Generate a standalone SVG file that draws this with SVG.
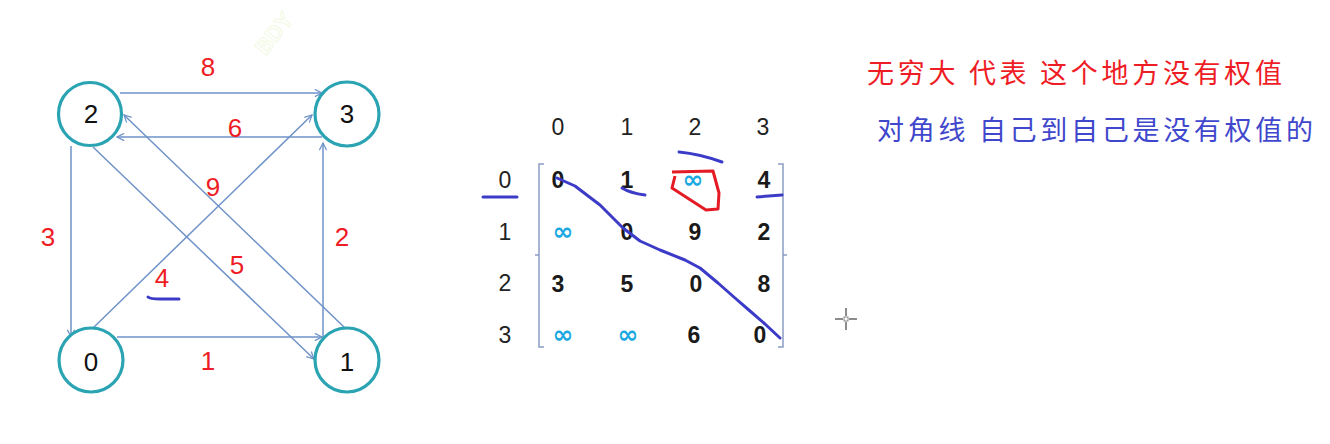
<svg xmlns="http://www.w3.org/2000/svg" width="1330" height="444" viewBox="0 0 1330 444">
<defs>
<marker id="arr" viewBox="0 0 10 10" refX="9" refY="5" markerWidth="9" markerHeight="9" markerUnits="userSpaceOnUse" orient="auto">
<path d="M1,1 L9,5 L1,9" fill="none" stroke="#6f93c8" stroke-width="1.4"/>
</marker>
<style>
.node circle{fill:#fff;stroke:#2aa3b3;stroke-width:3.2}
.node text{font-family:"Liberation Sans",Arial,sans-serif;font-size:26px;fill:#111;text-anchor:middle}
.edge{stroke:#6f93c8;stroke-width:1.5;fill:none;marker-end:url(#arr)}
.w{font-family:"Liberation Sans",Arial,sans-serif;font-size:26px;fill:#ee1c25;text-anchor:middle}
.hd{font-family:"Liberation Sans",Arial,sans-serif;font-size:23px;fill:#222;text-anchor:middle}
.cell{font-family:"Liberation Sans",Arial,sans-serif;font-size:23px;font-weight:bold;fill:#1a1a1a;text-anchor:middle}
.inf{font-family:"DejaVu Sans",sans-serif;font-size:25px;font-weight:bold;fill:#1aa8e0;text-anchor:middle}
.ink{fill:none;stroke:#3b3bc8;stroke-width:3;stroke-linecap:round;stroke-linejoin:round}
.br{fill:none;stroke:#8a9cc4;stroke-width:1.5}
</style>
</defs>
<rect width="1330" height="444" fill="#fff"/>
<text x="280" y="38" transform="rotate(-52 280 38)" font-family="Liberation Sans,sans-serif" font-size="22" font-weight="bold" fill="none" stroke="#f2f9e2" stroke-width="1" text-anchor="middle">BDY</text>

<g id="connectors">
<line class="edge" x1="120" y1="93" x2="322" y2="93"/>
<line class="edge" x1="322" y1="137" x2="117" y2="137"/>
<line class="edge" x1="71" y1="146" x2="71" y2="337"/>
<line class="edge" x1="323" y1="337" x2="323" y2="143"/>
<line class="edge" x1="117" y1="337" x2="322" y2="337"/>
<line class="edge" x1="93" y1="147" x2="314" y2="359"/>
<line class="edge" x1="345" y1="328" x2="124" y2="115"/>
<line class="edge" x1="93" y1="328" x2="312" y2="115"/>
</g>

<g id="edge-labels">
<text class="w" x="208" y="76">8</text>
<text class="w" x="235" y="137">6</text>
<text class="w" x="213" y="196">9</text>
<text class="w" x="48" y="246">3</text>
<text class="w" x="342" y="246">2</text>
<text class="w" x="162" y="287">4</text>
<text class="w" x="237" y="274">5</text>
<text class="w" x="208" y="370">1</text>
<path class="ink" d="M148,297 Q150,299 160,299 L179,299"/>
</g>

<g id="node-2" class="node"><circle cx="90" cy="114" r="31.5"/><text x="91" y="123">2</text></g>
<g id="node-3" class="node"><circle cx="347" cy="114" r="32"/><text x="347" y="123">3</text></g>
<g id="node-0" class="node"><circle cx="91" cy="360" r="32"/><text x="91" y="371">0</text></g>
<g id="node-1" class="node"><circle cx="347" cy="360" r="32"/><text x="347" y="371">1</text></g>

<g id="matrix">
<text class="hd" x="558" y="135">0</text>
<text class="hd" x="627" y="135">1</text>
<text class="hd" x="695" y="135">2</text>
<text class="hd" x="763" y="135">3</text>
<text class="hd" x="505" y="188">0</text>
<text class="hd" x="505" y="240">1</text>
<text class="hd" x="505" y="291">2</text>
<text class="hd" x="505" y="343">3</text>
<path class="br" d="M544,164 L539,164 L539,347 L544,347 M539,255 L535,255"/>
<path class="br" d="M778,164 L783,164 L783,347 L778,347 M783,255 L787,255"/>
<text class="cell" x="558" y="188">0</text>
<text class="cell" x="627" y="188">1</text>
<text class="inf" x="693" y="188">∞</text>
<text class="cell" x="764" y="188">4</text>
<text class="inf" x="563" y="240">∞</text>
<text class="cell" x="627" y="240">0</text>
<text class="cell" x="695" y="240">9</text>
<text class="cell" x="764" y="240">2</text>
<text class="cell" x="558" y="292">3</text>
<text class="cell" x="627" y="292">5</text>
<text class="cell" x="696" y="292">0</text>
<text class="cell" x="764" y="292">8</text>
<text class="inf" x="563" y="343">∞</text>
<text class="inf" x="628" y="343">∞</text>
<text class="cell" x="694" y="343">6</text>
<text class="cell" x="760" y="343">0</text>
</g>

<g id="annotations">
<path class="ink" d="M557,178 L575,186 L600,205 L623,228 L640,241 L660,250 L685,260 L700,268 L718,283 L735,298 L750,311 L765,324 L780,338"/>
<path class="ink" d="M483,197 L517,197"/>
<path class="ink" d="M622,188 Q630,193 645,195"/>
<path class="ink" d="M679,152 Q700,154 722,162"/>
<path class="ink" d="M757,197 L782,195"/>
<path d="M672,172 L713,171 L719,193 L718,209 L706,210 L672,188 L675,176" fill="none" stroke="#e41a24" stroke-width="3" stroke-linejoin="round"/>
</g>

<g id="notes">
<text x="867" y="83" font-family="'Noto Sans CJK SC',sans-serif" font-size="27" fill="#ee1c25" textLength="415" lengthAdjust="spacing">无穷大 代表 这个地方没有权值</text>
<text x="877" y="140" font-family="'Noto Sans CJK SC',sans-serif" font-size="27" fill="#3f48cc" textLength="436" lengthAdjust="spacing">对角线 自己到自己是没有权值的</text>
</g>

<g id="cursor" stroke="#666" stroke-width="1.5">
<line x1="846" y1="308" x2="846" y2="316"/>
<line x1="846" y1="322" x2="846" y2="330"/>
<line x1="835" y1="319" x2="843" y2="319"/>
<line x1="849" y1="319" x2="857" y2="319"/>
<rect x="844" y="317" width="4" height="4" fill="#fff" stroke="#888" stroke-width="1"/>
</g>
</svg>
